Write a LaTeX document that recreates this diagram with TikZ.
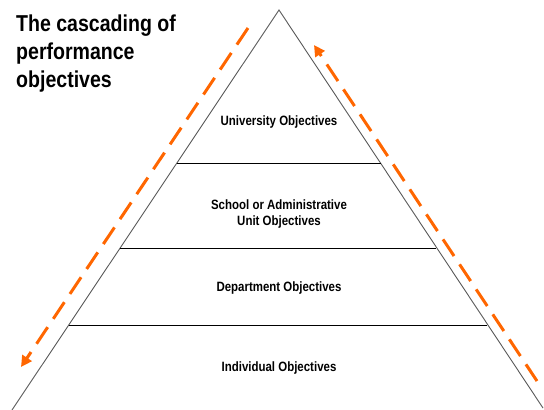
\documentclass[tikz,border=0pt]{standalone}
\usepackage{fontspec}
\setmainfont{Liberation Sans}
\newfontfamily\condfont[FakeStretch=0.85]{Liberation Sans}
\usetikzlibrary{arrows.meta}
\begin{document}
\begin{tikzpicture}[x=1pt,y=-1pt,
  side/.style={draw=black!65,line width=0.9pt},
  tier/.style={draw=black,line width=0.9pt},
  lbl/.style={font=\condfont\bfseries\fontsize{13.5}{16}\selectfont,align=center,inner sep=0pt},
  flow/.style={draw={rgb,255:red,255;green,102;blue,0},line width=3pt,dash pattern=on 20pt off 10pt,
    -{Triangle[length=11pt,width=11pt]}}]
\useasboundingbox (0,0) rectangle (544,410);
% triangle
\coordinate (apex) at (279,10);
\coordinate (bl) at (12,410);
\coordinate (br) at (543,408);
\draw[side] (bl) -- (apex) -- (br);
% tier lines
\coordinate (l1) at (177,163); \coordinate (r1) at (381,163);
\coordinate (l2) at (120,248); \coordinate (r2) at (436,248);
\coordinate (l3) at (69,325);  \coordinate (r3) at (487,325);
\draw[tier] (l1) -- (r1);
\draw[tier] (l2) -- (r2);
\draw[tier] (l3) -- (r3);
% labels
\node[lbl] (t1) at (279,122) {University Objectives};
\node[lbl] (t2) at (279,214) {School or Administrative\\Unit Objectives};
\node[lbl] (t3) at (279,288) {Department Objectives};
\node[lbl] (t4) at (279,368) {Individual Objectives};
% title
\node[font=\condfont\bfseries\fontsize{23}{28}\selectfont,align=left,anchor=north west,inner sep=0pt] (title) at (16,15)
  {The cascading of\\performance\\objectives};
% orange arrows
\coordinate (a1s) at (248,28); \coordinate (a1e) at (21,367);
\coordinate (a2s) at (537,381); \coordinate (a2e) at (314,45);
\draw[flow] (a1s) -- (a1e);
\draw[flow] (a2s) -- (a2e);
\end{tikzpicture}
\end{document}
